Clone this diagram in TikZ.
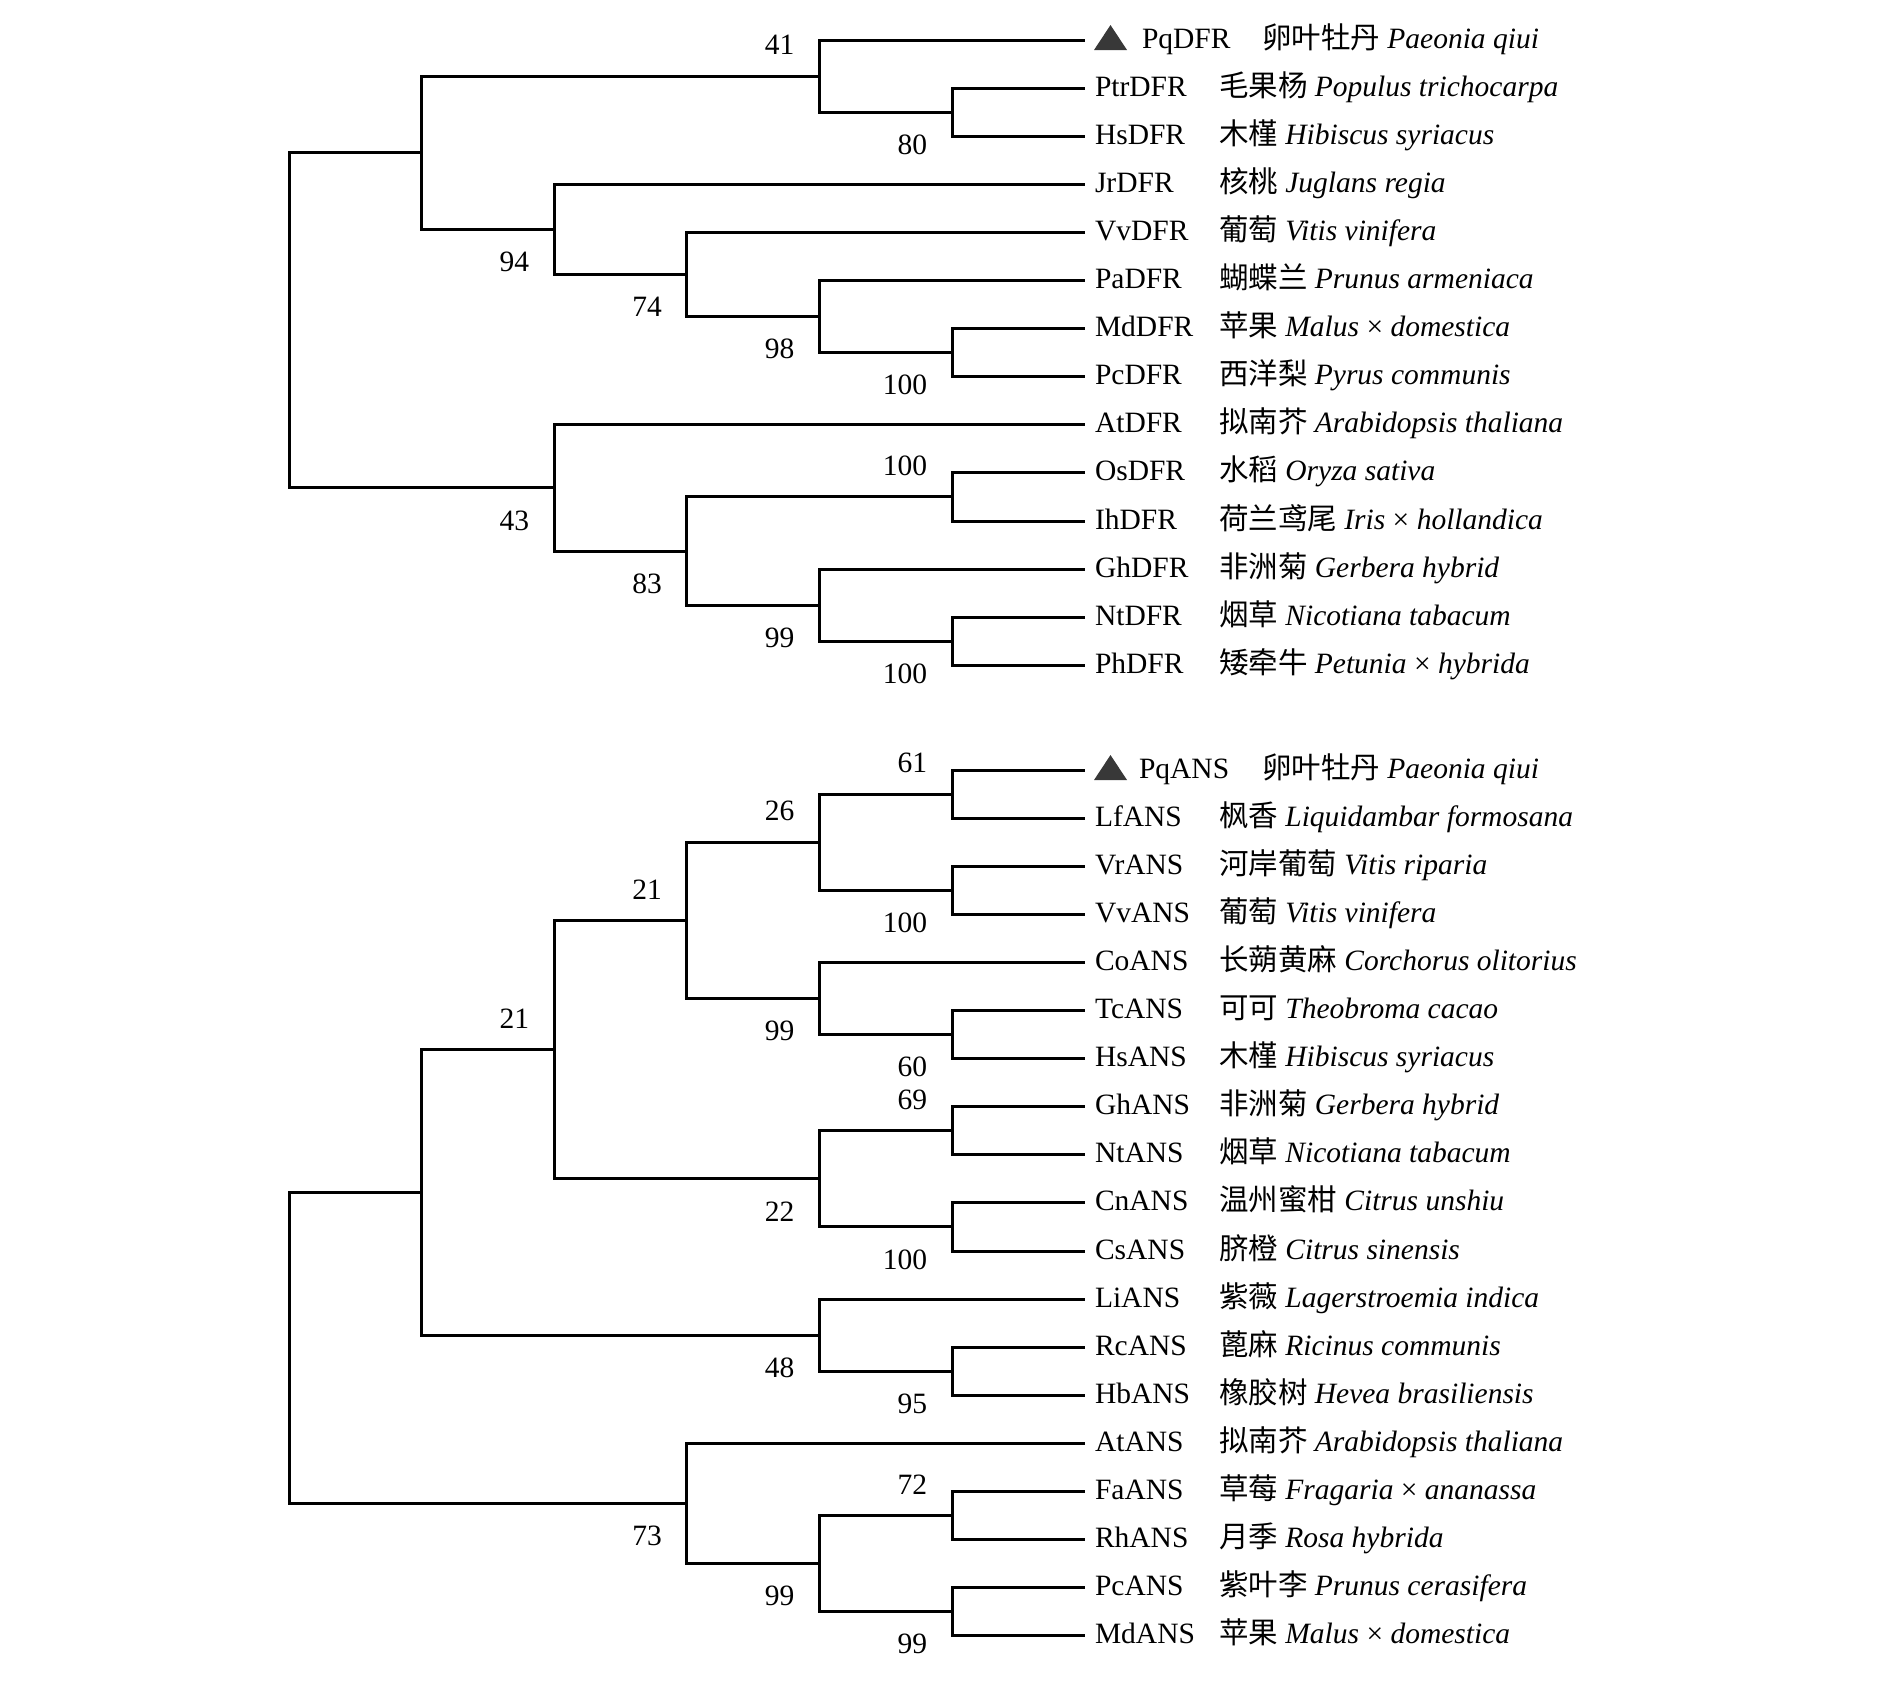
\documentclass[tikz,border=0pt]{standalone}
\usepackage{fontspec}
\usetikzlibrary{calc}
\setmainfont{Liberation Serif}
\newfontfamily\cjk{Noto Sans CJK SC}[Scale=1.0]
\begin{document}
\begin{tikzpicture}[x=0.5pt,y=-0.5pt,
  every node/.style={font=\fontsize{14.75}{17}\selectfont, inner sep=0pt, outer sep=0pt},
  br/.style={line width=1.5pt, black, line cap=rect},
  bsb/.style={anchor=east, xshift=-12.5pt, yshift=-16.25pt},
  bsa/.style={anchor=east, xshift=-12.5pt, yshift=15.5pt},
  gene/.style={anchor=base west},
  spec/.style={anchor=base west},
  tri/.style={fill=black!78}
]
\useasboundingbox (0,0) rectangle (1890,1683);

% ---------------- top tree (DFR) ----------------
\foreach \i in {0,...,13} {
  \coordinate (t\i) at (1083, {40+48.1*\i});
}
\coordinate (tE) at (952, 112.15);
\coordinate (tC) at (819.4, 76.08);
\coordinate (tH) at (952, 352.65);
\coordinate (tG) at (819.4, 316.58);
\coordinate (tF) at (686.8, 274.49);
\coordinate (tD) at (554.2, 229.39);
\coordinate (tA) at (421.6, 152.74);
\coordinate (tJ) at (952, 496.95);
\coordinate (tL) at (952, 641.25);
\coordinate (tK) at (819.4, 605.18);
\coordinate (tI) at (686.8, 551.06);
\coordinate (tB) at (554.2, 487.93);
\coordinate (tR) at (289, 320.34);

\draw[br] (tR) |- (tA);  \draw[br] (tR) |- (tB);
\draw[br] (tA) |- (tC);  \draw[br] (tA) |- (tD);
\draw[br] (tC) |- (t0);  \draw[br] (tC) |- (tE);
\draw[br] (tE) |- (t1);  \draw[br] (tE) |- (t2);
\draw[br] (tD) |- (t3);  \draw[br] (tD) |- (tF);
\draw[br] (tF) |- (t4);  \draw[br] (tF) |- (tG);
\draw[br] (tG) |- (t5);  \draw[br] (tG) |- (tH);
\draw[br] (tH) |- (t6);  \draw[br] (tH) |- (t7);
\draw[br] (tB) |- (t8);  \draw[br] (tB) |- (tI);
\draw[br] (tI) |- (tJ);  \draw[br] (tI) |- (tK);
\draw[br] (tJ) |- (t9);  \draw[br] (tJ) |- (t10);
\draw[br] (tK) |- (t11); \draw[br] (tK) |- (tL);
\draw[br] (tL) |- (t12); \draw[br] (tL) |- (t13);

\node[bsa] (btC) at (tC) {41};
\node[bsb] (btE) at (tE) {80};
\node[bsb] (btD) at (tD) {94};
\node[bsb] (btF) at (tF) {74};
\node[bsb] (btG) at (tG) {98};
\node[bsb] (btH) at (tH) {100};
\node[bsb] (btB) at (tB) {43};
\node[bsb] (btI) at (tI) {83};
\node[bsa] (btJ) at (tJ) {100};
\node[bsb] (btK) at (tK) {99};
\node[bsb] (btL) at (tL) {100};

\fill[tri] ($(t0)+(11,10)$) -- ($(t0)+(44,10)$) -- ($(t0)+(27.5,-15)$) -- cycle;
\node[gene] (gt0) at ($(t0)+(59,8)$) {PqDFR};
\node[spec] (st0) at ($(t0)+(179,8)$) {{\cjk 卵叶牡丹} \textit{Paeonia qiui}};
\node[gene] (gt1) at ($(t1)+(12,8)$) {PtrDFR};
\node[spec] (st1) at ($(t1)+(136,8)$) {{\cjk 毛果杨} \textit{Populus trichocarpa}};
\node[gene] (gt2) at ($(t2)+(12,8)$) {HsDFR};
\node[spec] (st2) at ($(t2)+(136,8)$) {{\cjk 木槿} \textit{Hibiscus syriacus}};
\node[gene] (gt3) at ($(t3)+(12,8)$) {JrDFR};
\node[spec] (st3) at ($(t3)+(136,8)$) {{\cjk 核桃} \textit{Juglans regia}};
\node[gene] (gt4) at ($(t4)+(12,8)$) {VvDFR};
\node[spec] (st4) at ($(t4)+(136,8)$) {{\cjk 葡萄} \textit{Vitis vinifera}};
\node[gene] (gt5) at ($(t5)+(12,8)$) {PaDFR};
\node[spec] (st5) at ($(t5)+(136,8)$) {{\cjk 蝴蝶兰} \textit{Prunus armeniaca}};
\node[gene] (gt6) at ($(t6)+(12,8)$) {MdDFR};
\node[spec] (st6) at ($(t6)+(136,8)$) {{\cjk 苹果} \textit{Malus} × \textit{domestica}};
\node[gene] (gt7) at ($(t7)+(12,8)$) {PcDFR};
\node[spec] (st7) at ($(t7)+(136,8)$) {{\cjk 西洋梨} \textit{Pyrus communis}};
\node[gene] (gt8) at ($(t8)+(12,8)$) {AtDFR};
\node[spec] (st8) at ($(t8)+(136,8)$) {{\cjk 拟南芥} \textit{Arabidopsis thaliana}};
\node[gene] (gt9) at ($(t9)+(12,8)$) {OsDFR};
\node[spec] (st9) at ($(t9)+(136,8)$) {{\cjk 水稻} \textit{Oryza sativa}};
\node[gene] (gt10) at ($(t10)+(12,8)$) {IhDFR};
\node[spec] (st10) at ($(t10)+(136,8)$) {{\cjk 荷兰鸢尾} \textit{Iris} × \textit{hollandica}};
\node[gene] (gt11) at ($(t11)+(12,8)$) {GhDFR};
\node[spec] (st11) at ($(t11)+(136,8)$) {{\cjk 非洲菊} \textit{Gerbera hybrid}};
\node[gene] (gt12) at ($(t12)+(12,8)$) {NtDFR};
\node[spec] (st12) at ($(t12)+(136,8)$) {{\cjk 烟草} \textit{Nicotiana tabacum}};
\node[gene] (gt13) at ($(t13)+(12,8)$) {PhDFR};
\node[spec] (st13) at ($(t13)+(136,8)$) {{\cjk 矮牵牛} \textit{Petunia} × \textit{hybrida}};

% ---------------- bottom tree (ANS) ----------------
\foreach \i in {0,...,18} {
  \coordinate (b\i) at (1083, {770+48.1*\i});
}
\coordinate (bX) at (952, 794.05);
\coordinate (bY) at (952, 890.25);
\coordinate (bV) at (819.4, 842.15);
\coordinate (bZ) at (952, 1034.55);
\coordinate (bW) at (819.4, 998.48);
\coordinate (bT) at (686.8, 920.31);
\coordinate (bAA) at (952, 1130.75);
\coordinate (bAB) at (952, 1226.95);
\coordinate (bU) at (819.4, 1178.85);
\coordinate (bRr) at (554.2, 1049.58);
\coordinate (bAC) at (952, 1371.25);
\coordinate (bS) at (819.4, 1335.18);
\coordinate (bP) at (421.6, 1192.38);
\coordinate (bAE) at (952, 1515.55);
\coordinate (bAF) at (952, 1611.75);
\coordinate (bAD) at (819.4, 1563.65);
\coordinate (bQ) at (686.8, 1503.53);
\coordinate (bRoot) at (289, 1347.95);

\draw[br] (bRoot) |- (bP);  \draw[br] (bRoot) |- (bQ);
\draw[br] (bP) |- (bRr);    \draw[br] (bP) |- (bS);
\draw[br] (bRr) |- (bT);    \draw[br] (bRr) |- (bU);
\draw[br] (bT) |- (bV);     \draw[br] (bT) |- (bW);
\draw[br] (bV) |- (bX);     \draw[br] (bV) |- (bY);
\draw[br] (bX) |- (b0);     \draw[br] (bX) |- (b1);
\draw[br] (bY) |- (b2);     \draw[br] (bY) |- (b3);
\draw[br] (bW) |- (b4);     \draw[br] (bW) |- (bZ);
\draw[br] (bZ) |- (b5);     \draw[br] (bZ) |- (b6);
\draw[br] (bU) |- (bAA);    \draw[br] (bU) |- (bAB);
\draw[br] (bAA) |- (b7);    \draw[br] (bAA) |- (b8);
\draw[br] (bAB) |- (b9);    \draw[br] (bAB) |- (b10);
\draw[br] (bS) |- (b11);    \draw[br] (bS) |- (bAC);
\draw[br] (bAC) |- (b12);   \draw[br] (bAC) |- (b13);
\draw[br] (bQ) |- (b14);    \draw[br] (bQ) |- (bAD);
\draw[br] (bAD) |- (bAE);   \draw[br] (bAD) |- (bAF);
\draw[br] (bAE) |- (b15);   \draw[br] (bAE) |- (b16);
\draw[br] (bAF) |- (b17);   \draw[br] (bAF) |- (b18);

\node[bsa] (bbX) at (bX) {61};
\node[bsa] (bbV) at (bV) {26};
\node[bsa] (bbT) at (bT) {21};
\node[bsa] (bbR) at (bRr) {21};
\node[bsb] (bbY) at (bY) {100};
\node[bsb] (bbW) at (bW) {99};
\node[bsb] (bbZ) at (bZ) {60};
\node[bsa] (bbAA) at (bAA) {69};
\node[bsb] (bbU) at (bU) {22};
\node[bsb] (bbAB) at (bAB) {100};
\node[bsb] (bbS) at (bS) {48};
\node[bsb] (bbAC) at (bAC) {95};
\node[bsa] (bbAE) at (bAE) {72};
\node[bsb] (bbQ) at (bQ) {73};
\node[bsb] (bbAD) at (bAD) {99};
\node[bsb] (bbAF) at (bAF) {99};

\fill[tri] ($(b0)+(11,10)$) -- ($(b0)+(44,10)$) -- ($(b0)+(27.5,-15)$) -- cycle;
\node[gene] (gb0) at ($(b0)+(56,8)$) {PqANS};
\node[spec] (sb0) at ($(b0)+(179,8)$) {{\cjk 卵叶牡丹} \textit{Paeonia qiui}};
\node[gene] (gb1) at ($(b1)+(12,8)$) {LfANS};
\node[spec] (sb1) at ($(b1)+(136,8)$) {{\cjk 枫香} \textit{Liquidambar formosana}};
\node[gene] (gb2) at ($(b2)+(12,8)$) {VrANS};
\node[spec] (sb2) at ($(b2)+(136,8)$) {{\cjk 河岸葡萄} \textit{Vitis riparia}};
\node[gene] (gb3) at ($(b3)+(12,8)$) {VvANS};
\node[spec] (sb3) at ($(b3)+(136,8)$) {{\cjk 葡萄} \textit{Vitis vinifera}};
\node[gene] (gb4) at ($(b4)+(12,8)$) {CoANS};
\node[spec] (sb4) at ($(b4)+(136,8)$) {{\cjk 长蒴黄麻} \textit{Corchorus olitorius}};
\node[gene] (gb5) at ($(b5)+(12,8)$) {TcANS};
\node[spec] (sb5) at ($(b5)+(136,8)$) {{\cjk 可可} \textit{Theobroma cacao}};
\node[gene] (gb6) at ($(b6)+(12,8)$) {HsANS};
\node[spec] (sb6) at ($(b6)+(136,8)$) {{\cjk 木槿} \textit{Hibiscus syriacus}};
\node[gene] (gb7) at ($(b7)+(12,8)$) {GhANS};
\node[spec] (sb7) at ($(b7)+(136,8)$) {{\cjk 非洲菊} \textit{Gerbera hybrid}};
\node[gene] (gb8) at ($(b8)+(12,8)$) {NtANS};
\node[spec] (sb8) at ($(b8)+(136,8)$) {{\cjk 烟草} \textit{Nicotiana tabacum}};
\node[gene] (gb9) at ($(b9)+(12,8)$) {CnANS};
\node[spec] (sb9) at ($(b9)+(136,8)$) {{\cjk 温州蜜柑} \textit{Citrus unshiu}};
\node[gene] (gb10) at ($(b10)+(12,8)$) {CsANS};
\node[spec] (sb10) at ($(b10)+(136,8)$) {{\cjk 脐橙} \textit{Citrus sinensis}};
\node[gene] (gb11) at ($(b11)+(12,8)$) {LiANS};
\node[spec] (sb11) at ($(b11)+(136,8)$) {{\cjk 紫薇} \textit{Lagerstroemia indica}};
\node[gene] (gb12) at ($(b12)+(12,8)$) {RcANS};
\node[spec] (sb12) at ($(b12)+(136,8)$) {{\cjk 蓖麻} \textit{Ricinus communis}};
\node[gene] (gb13) at ($(b13)+(12,8)$) {HbANS};
\node[spec] (sb13) at ($(b13)+(136,8)$) {{\cjk 橡胶树} \textit{Hevea brasiliensis}};
\node[gene] (gb14) at ($(b14)+(12,8)$) {AtANS};
\node[spec] (sb14) at ($(b14)+(136,8)$) {{\cjk 拟南芥} \textit{Arabidopsis thaliana}};
\node[gene] (gb15) at ($(b15)+(12,8)$) {FaANS};
\node[spec] (sb15) at ($(b15)+(136,8)$) {{\cjk 草莓} \textit{Fragaria} × \textit{ananassa}};
\node[gene] (gb16) at ($(b16)+(12,8)$) {RhANS};
\node[spec] (sb16) at ($(b16)+(136,8)$) {{\cjk 月季} \textit{Rosa hybrida}};
\node[gene] (gb17) at ($(b17)+(12,8)$) {PcANS};
\node[spec] (sb17) at ($(b17)+(136,8)$) {{\cjk 紫叶李} \textit{Prunus cerasifera}};
\node[gene] (gb18) at ($(b18)+(12,8)$) {MdANS};
\node[spec] (sb18) at ($(b18)+(136,8)$) {{\cjk 苹果} \textit{Malus} × \textit{domestica}};
\end{tikzpicture}
\end{document}
